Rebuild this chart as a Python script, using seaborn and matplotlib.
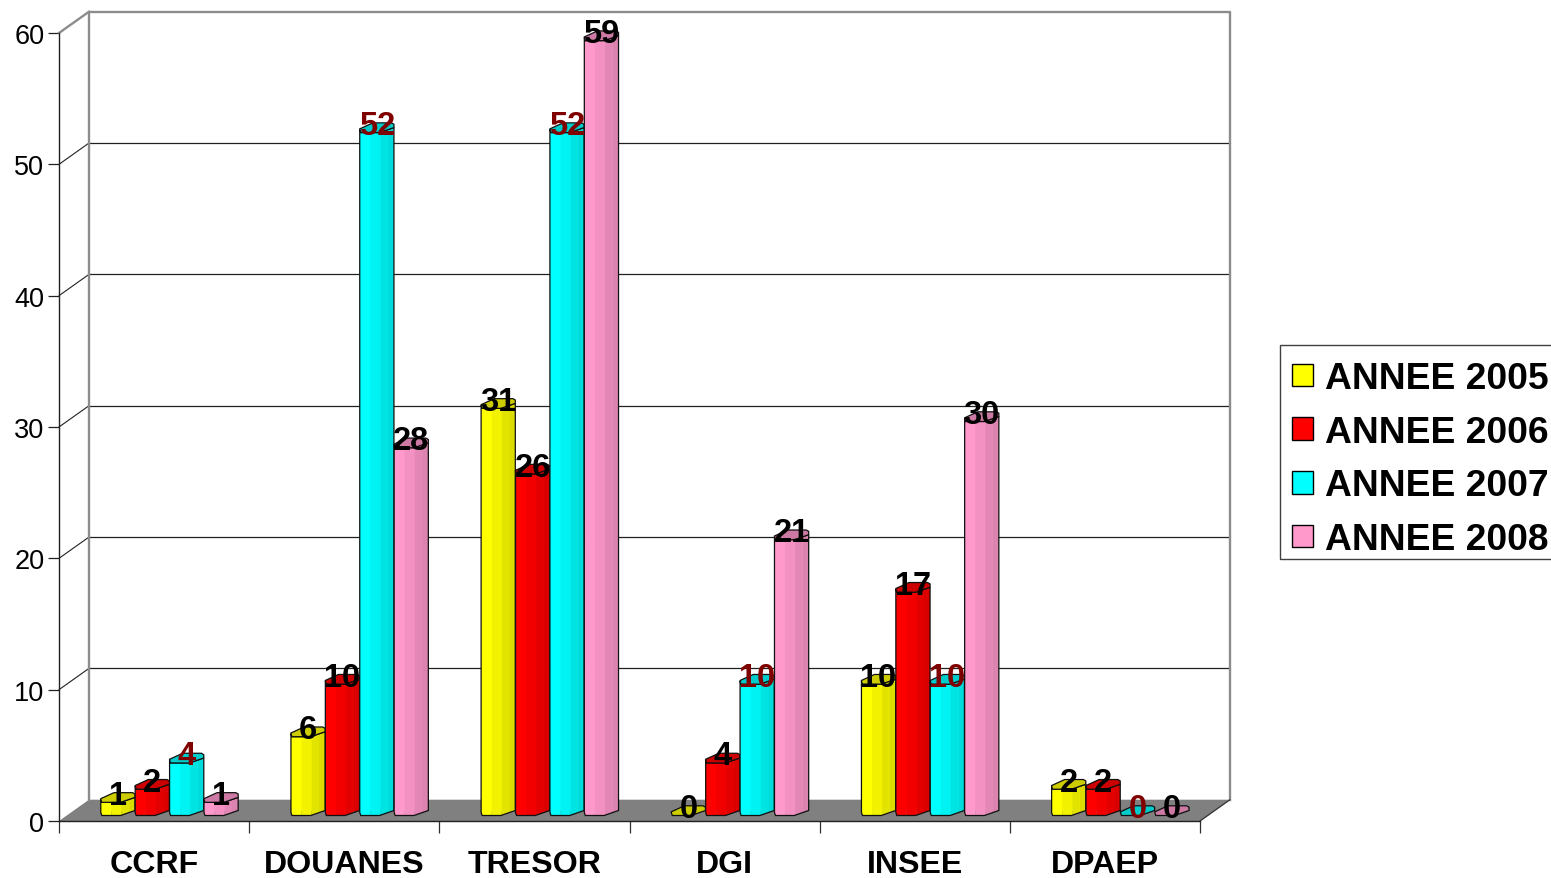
import numpy as np
import pandas as pd
import matplotlib
matplotlib.use("Agg")
import matplotlib.pyplot as plt
from matplotlib.patches import Polygon, Rectangle
from matplotlib.transforms import Affine2D, IdentityTransform
from matplotlib.ticker import FixedLocator, NullFormatter
from matplotlib.colors import to_rgb
import seaborn as sns

categories = ["CCRF", "DOUANES", "TRESOR", "DGI", "INSEE", "DPAEP"]
annee_2005 = [1, 6, 31, 0, 10, 2]
annee_2006 = [2, 10, 26, 4, 17, 2]
annee_2007 = [4, 52, 52, 10, 10, 0]
annee_2008 = [1, 28, 59, 21, 30, 0]
series_names = ["ANNEE 2005", "ANNEE 2006", "ANNEE 2007", "ANNEE 2008"]
series_colors = ["#FFFF00", "#FF0000", "#00FFFF", "#FF99CC"]
label_colors = ["black", "black", "#800000", "black"]
y_ticks = [0, 10, 20, 30, 40, 50, 60]

df = pd.DataFrame({"cat": categories, series_names[0]: annee_2005, series_names[1]: annee_2006,
                   series_names[2]: annee_2007, series_names[3]: annee_2008})
long_df = df.melt(id_vars="cat", var_name="annee", value_name="n")

sns.set_theme(style="white")
plt.rcParams["font.family"] = ["Liberation Sans", "DejaVu Sans"]
plt.rcParams["text.color"] = "black"

W, H = 1551, 879
fig = plt.figure(figsize=(W / 100, H / 100), dpi=100, facecolor="white")
ax = fig.add_axes([59 / W, (H - 822) / H, (1200 - 59) / W, (822 - 34) / H])
ax.patch.set_visible(False)

sns.barplot(data=long_df, x="cat", y="n", hue="annee", order=categories, hue_order=series_names,
            palette=dict(zip(series_names, series_colors)), width=0.7236, gap=0.1,
            edgecolor="black", linewidth=1.0, saturation=1, ax=ax, zorder=3)
ax.set_xlim(-0.5, 5.5)
ax.set_ylim(0, 60)
ax.set_xlabel("")
ax.set_ylabel("")

sns.move_legend(ax, "upper left", bbox_to_anchor=(1279.5 / W, 1 - 349.5 / H),
                bbox_transform=fig.transFigure, title=None, frameon=False,
                prop={"weight": "bold", "size": 26.85}, borderaxespad=0, borderpad=0.34,
                handlelength=0.56, handleheight=0.56, handletextpad=0.33, labelspacing=0.5)
for t in ax.get_legend().get_texts():
    t.set_color("black")
fig.add_artist(Rectangle((1279.5 / W, 1 - 560 / H), 300 / W, 214 / H, transform=fig.transFigure,
                         facecolor="none", edgecolor="#404040", linewidth=1.0))

# axes and ticks
for s in ["top", "right"]:
    ax.spines[s].set_visible(False)
for s in ["left", "bottom"]:
    ax.spines[s].set_color("#202020")
    ax.spines[s].set_linewidth(1.0)
    ax.spines[s].set_zorder(2.5)
ax.set_yticks(y_ticks)
ax.tick_params(axis="y", which="major", left=True, length=8, width=0.9, color="#202020",
               labelsize=19.5, pad=2.5, labelcolor="black")
ax.xaxis.set_minor_locator(FixedLocator(np.arange(-0.5, 6, 1)))
ax.xaxis.set_minor_formatter(NullFormatter())
ax.tick_params(axis="x", which="minor", bottom=True, length=8.5, width=0.9, color="#303030")
ax.tick_params(axis="x", which="major", bottom=False, length=0, labelsize=23.15, pad=20, labelcolor="black")
for t in ax.get_xticklabels():
    t.set_fontweight("bold")

# 3D box: back wall displaced by the chart depth, in pixels
DX, DY = 30, 21.3
back = ax.transData + Affine2D().translate(DX, DY)
xl, xr = -0.5, 5.5
floor_px = np.vstack([ax.transData.transform([(xl, 0), (xr, 0)]), back.transform([(xr, 0), (xl, 0)])])
ax.add_patch(Polygon(floor_px, closed=True, transform=IdentityTransform(), facecolor="#808080",
                     edgecolor="none", clip_on=False, zorder=1))
for yv in y_ticks[1:-1]:
    ax.plot([xl, xr], [yv, yv], color="#202020", lw=0.9, transform=back, clip_on=False, zorder=1.2)
    p = np.array([ax.transData.transform((xl, yv)), back.transform((xl, yv))])
    ax.plot(p[:, 0], p[:, 1], color="#202020", lw=0.8, transform=IdentityTransform(), clip_on=False, zorder=1.2)
WALL = dict(color="#8c8c8c", lw=1.7, clip_on=False, zorder=1.5, solid_capstyle="projecting")
ax.plot([xl, xl, xr, xr], [0, 60, 60, 0], transform=back, **WALL)
p = np.array([ax.transData.transform((xl, 60)), back.transform((xl, 60))])
ax.plot(p[:, 0], p[:, 1], transform=IdentityTransform(), **WALL)
p = np.array([ax.transData.transform((xr, 0)), back.transform((xr, 0))])
ax.plot(p[:, 0], p[:, 1], transform=IdentityTransform(), color="#303030", lw=0.9, clip_on=False, zorder=1.5)

# octagonal 3D columns, derived from the seaborn bars
CX, CY = 15.4, 10.5
front = [(-17.1, 2), (-16.1, 5), (2.7, 5), (17.1, 0)]
top_ring = [(-17.1, 2), (-16.1, 5), (2.7, 5), (17.1, 0), (17.1, -3.3), (14.7, -4.7), (-4, -4.7), (-17.1, 1.3)]
strips = [(-17.1, -6.5, 1.0), (-6.5, 3.5, 0.95), (3.5, 11.0, 0.89), (11.0, 17.1, 0.86)]


def front_y(x):
    return np.interp(x, [f[0] for f in front], [f[1] for f in front])


def shade(col, k):
    return tuple(np.array(to_rgb(col)) * k)


def add_poly(pts, z, **kw):
    ax.add_patch(Polygon(np.array(pts), closed=True, transform=IdentityTransform(), clip_on=False,
                         zorder=z, **kw))


rect_shift = ax.transData + Affine2D().translate(CX, CY)
for si, cont in enumerate(ax.containers):
    col = series_colors[si]
    for rect in cont.patches:
        v = rect.get_height()
        xc = rect.get_x() + rect.get_width() / 2
        z = 3 + xc / 10
        rect.set_transform(rect_shift)
        rect.set_linewidth(0)
        rect.set_clip_on(False)
        rect.set_zorder(z)
        bx, by_base = ax.transData.transform((xc, 0))
        _, by_top = ax.transData.transform((xc, v))
        bx += CX
        by_base += CY
        by_top += CY
        if v > 0:
            for x0, x1, k in strips:
                xs = [x0, x1]
                if x0 < -16.1 < x1:
                    xs = [x0, -16.1, x1]
                bot = [(bx + x, by_base - front_y(x)) for x in xs]
                top = [(bx + x, by_top - front_y(x)) for x in reversed(xs)]
                add_poly(bot + top, z + 0.001, facecolor=shade(col, k), edgecolor="none")
            outline = [(bx + x, by_base - y) for x, y in front] + [(bx + x, by_top - y) for x, y in reversed(front)]
            add_poly(outline, z + 0.002, facecolor="none", edgecolor="#101010", linewidth=0.9)
        ring = [(bx + x, by_top - y) for x, y in top_ring]
        add_poly(ring, z + 0.003, facecolor=shade(col, 0.8), edgecolor="#101010", linewidth=0.9)
        ax.annotate(f"{int(v)}", (xc, v), xytext=(CX * 0.72, (CY + 2) * 0.72), textcoords="offset points",
                    ha="center", va="center", fontsize=23.5, fontweight="bold", color=label_colors[si],
                    annotation_clip=False, zorder=20)

fig.savefig("out.png", dpi=100, facecolor="white")
